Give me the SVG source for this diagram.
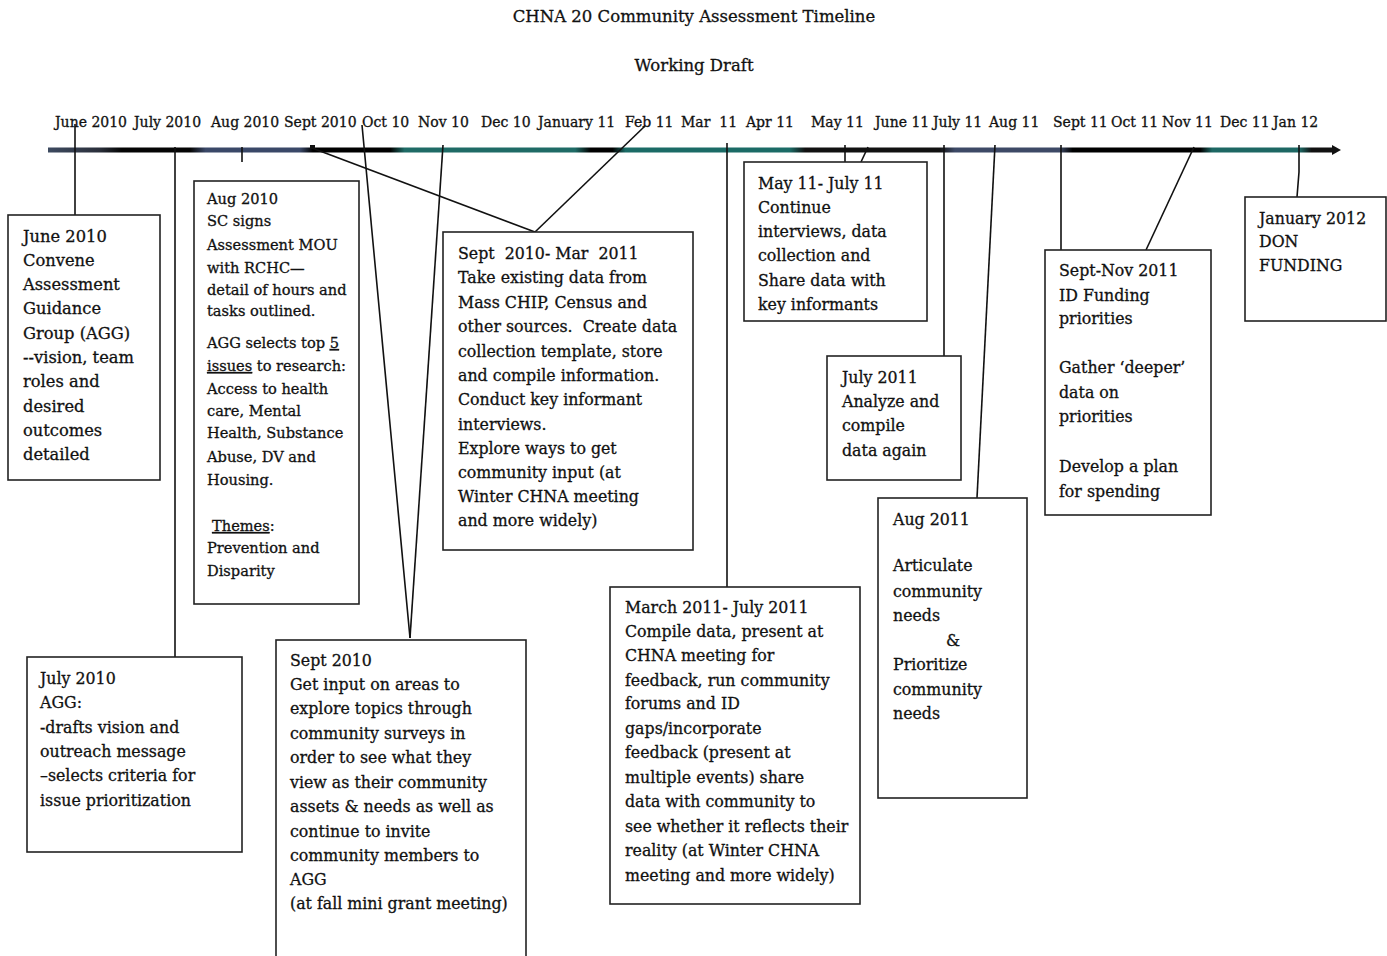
<svg xmlns="http://www.w3.org/2000/svg" width="1387" height="956" viewBox="0 0 1387 956">
<defs>
<linearGradient id="bar" gradientUnits="userSpaceOnUse" x1="48" y1="0" x2="1340" y2="0">
<stop offset="0" stop-color="#3d4a60"/>
<stop offset="0.040" stop-color="#2a2f3a"/>
<stop offset="0.057" stop-color="#050505"/>
<stop offset="0.110" stop-color="#050505"/>
<stop offset="0.122" stop-color="#3a4868"/>
<stop offset="0.195" stop-color="#3a4868"/>
<stop offset="0.205" stop-color="#000"/>
<stop offset="0.265" stop-color="#000"/>
<stop offset="0.276" stop-color="#1f6b66"/>
<stop offset="0.408" stop-color="#1f6b66"/>
<stop offset="0.420" stop-color="#000"/>
<stop offset="0.437" stop-color="#000"/>
<stop offset="0.447" stop-color="#1b6b66"/>
<stop offset="0.574" stop-color="#1b6b66"/>
<stop offset="0.586" stop-color="#111"/>
<stop offset="0.690" stop-color="#111"/>
<stop offset="0.702" stop-color="#3d4966"/>
<stop offset="0.783" stop-color="#3d4966"/>
<stop offset="0.793" stop-color="#000"/>
<stop offset="0.892" stop-color="#000"/>
<stop offset="0.901" stop-color="#1d6763"/>
<stop offset="0.969" stop-color="#1d6763"/>
<stop offset="0.978" stop-color="#111"/>
<stop offset="1" stop-color="#111"/>
</linearGradient>
</defs>
<style>
text{font-family:"DejaVu Serif","Liberation Serif",serif;fill:#111;stroke:#111;stroke-width:0.3;white-space:pre;}
.t{font-size:16.5px;}
.m{font-size:14px;}
.b{font-size:15.8px;}
.s{font-size:14.6px;}
.j{font-size:16.3px;}
.box{fill:#fff;stroke:#222;stroke-width:1.6;}
.c{stroke:#111;stroke-width:1.6;fill:none;}
.u{text-decoration:underline;}
</style>
<rect width="1387" height="956" fill="#fff"/>
<g id="title">
<text class="t" x="694" y="22" text-anchor="middle">CHNA 20 Community Assessment Timeline</text>
<text class="t" x="694" y="71" text-anchor="middle">Working Draft</text>
</g>
<g id="months">
<text class="m" x="55" y="127">June 2010</text>
<text class="m" x="134" y="127">July 2010</text>
<text class="m" x="211" y="127">Aug 2010</text>
<text class="m" x="284" y="127">Sept 2010</text>
<text class="m" x="362" y="127">Oct 10</text>
<text class="m" x="418" y="127">Nov 10</text>
<text class="m" x="481" y="127">Dec 10</text>
<text class="m" x="538" y="127">January 11</text>
<text class="m" x="625" y="127">Feb 11</text>
<text class="m" x="681" y="127" xml:space="preserve">Mar  11</text>
<text class="m" x="746" y="127">Apr 11</text>
<text class="m" x="811" y="127">May 11</text>
<text class="m" x="875" y="127">June 11</text>
<text class="m" x="933" y="127">July 11</text>
<text class="m" x="989" y="127">Aug 11</text>
<text class="m" x="1053" y="127">Sept 11</text>
<text class="m" x="1111" y="127">Oct 11</text>
<text class="m" x="1162" y="127">Nov 11</text>
<text class="m" x="1220" y="127">Dec 11</text>
<text class="m" x="1273" y="127">Jan 12</text>
</g>
<g id="timeline">
<rect x="48" y="147.5" width="1286" height="5" fill="url(#bar)"/>
<polygon points="1332,145 1341,150 1332,155" fill="#111"/>
</g>
<g id="connectors">
<line class="c" x1="75" y1="124" x2="75" y2="215"/>
<line class="c" x1="175" y1="147" x2="175" y2="657"/>
<line class="c" x1="242" y1="147" x2="242" y2="162"/>
<rect x="310" y="145" width="5" height="4" fill="#111"/>
<line class="c" x1="312" y1="148" x2="535" y2="232"/>
<line class="c" x1="645" y1="126" x2="535" y2="232"/>
<line class="c" x1="362" y1="125" x2="410" y2="638"/>
<line class="c" x1="443" y1="145" x2="410" y2="638"/>
<line class="c" x1="727" y1="143" x2="727" y2="587"/>
<line class="c" x1="845" y1="145" x2="845" y2="162"/>
<line class="c" x1="868" y1="147" x2="861" y2="162"/>
<line class="c" x1="944" y1="145" x2="944" y2="356"/>
<line class="c" x1="995" y1="145" x2="977" y2="498"/>
<line class="c" x1="1061" y1="145" x2="1061" y2="250"/>
<line class="c" x1="1194" y1="147" x2="1146" y2="250"/>
<polyline class="c" points="1299,145 1299,172 1297,197"/>
</g>
<g id="june2010">
<rect class="box" x="8" y="215" width="152" height="265"/>
<text class="j"><tspan x="23" y="242">June 2010</tspan><tspan x="23" y="266">Convene</tspan><tspan x="23" y="290">Assessment</tspan><tspan x="23" y="314">Guidance</tspan><tspan x="23" y="339">Group (AGG)</tspan><tspan x="23" y="363">--vision, team</tspan><tspan x="23" y="387">roles and</tspan><tspan x="23" y="412">desired</tspan><tspan x="23" y="436">outcomes</tspan><tspan x="23" y="460">detailed</tspan></text>
</g>
<g id="aug2010">
<rect class="box" x="194" y="181" width="165" height="423"/>
<text class="s"><tspan x="207" y="204">Aug 2010</tspan><tspan x="207" y="226">SC signs</tspan><tspan x="207" y="250">Assessment MOU</tspan><tspan x="207" y="273">with RCHC—</tspan><tspan x="207" y="295">detail of hours and</tspan><tspan x="207" y="316">tasks outlined.</tspan><tspan x="207" y="348">AGG selects top </tspan><tspan class="u">5</tspan><tspan x="207" y="371" class="u">issues</tspan><tspan> to research:</tspan><tspan x="207" y="394">Access to health</tspan><tspan x="207" y="416">care, Mental</tspan><tspan x="207" y="438">Health, Substance</tspan><tspan x="207" y="462">Abuse, DV and</tspan><tspan x="207" y="485">Housing.</tspan><tspan x="212" y="531" class="u">Themes</tspan><tspan>:</tspan><tspan x="207" y="553">Prevention and</tspan><tspan x="207" y="576">Disparity</tspan></text>
</g>
<g id="july2010">
<rect class="box" x="27" y="657" width="215" height="195"/>
<text class="b"><tspan x="40" y="684">July 2010</tspan><tspan x="40" y="708">AGG:</tspan><tspan x="40" y="733">-drafts vision and</tspan><tspan x="40" y="757">outreach message</tspan><tspan x="40" y="781">–selects criteria for</tspan><tspan x="40" y="806">issue prioritization</tspan></text>
</g>
<g id="sept2010">
<rect class="box" x="276" y="640" width="250" height="330"/>
<text class="b"><tspan x="290" y="666">Sept 2010</tspan><tspan x="290" y="690">Get input on areas to</tspan><tspan x="290" y="714">explore topics through</tspan><tspan x="290" y="739">community surveys in</tspan><tspan x="290" y="763">order to see what they</tspan><tspan x="290" y="788">view as their community</tspan><tspan x="290" y="812">assets &amp; needs as well as</tspan><tspan x="290" y="837">continue to invite</tspan><tspan x="290" y="861">community members to</tspan><tspan x="290" y="885">AGG</tspan><tspan x="290" y="909">(at fall mini grant meeting)</tspan></text>
</g>
<g id="sept2010-mar2011">
<rect class="box" x="443" y="232" width="250" height="318"/>
<text class="b" xml:space="preserve"><tspan x="458" y="259">Sept  2010- Mar  2011</tspan><tspan x="458" y="283">Take existing data from</tspan><tspan x="458" y="308">Mass CHIP, Census and</tspan><tspan x="458" y="332">other sources.  Create data</tspan><tspan x="458" y="357">collection template, store</tspan><tspan x="458" y="381">and compile information.</tspan><tspan x="458" y="405">Conduct key informant</tspan><tspan x="458" y="430">interviews.</tspan><tspan x="458" y="454">Explore ways to get</tspan><tspan x="458" y="478">community input (at</tspan><tspan x="458" y="502">Winter CHNA meeting</tspan><tspan x="458" y="526">and more widely)</tspan></text>
</g>
<g id="mar2011-jul2011">
<rect class="box" x="610" y="587" width="250" height="317"/>
<text class="b"><tspan x="625" y="613">March 2011- July 2011</tspan><tspan x="625" y="637">Compile data, present at</tspan><tspan x="625" y="661">CHNA meeting for</tspan><tspan x="625" y="686">feedback, run community</tspan><tspan x="625" y="709">forums and ID</tspan><tspan x="625" y="734">gaps/incorporate</tspan><tspan x="625" y="758">feedback (present at</tspan><tspan x="625" y="783">multiple events) share</tspan><tspan x="625" y="807">data with community to</tspan><tspan x="625" y="832">see whether it reflects their</tspan><tspan x="625" y="856">reality (at Winter CHNA</tspan><tspan x="625" y="881">meeting and more widely)</tspan></text>
</g>
<g id="may11-jul11">
<rect class="box" x="744" y="162" width="183" height="159"/>
<text class="b"><tspan x="758" y="189">May 11- July 11</tspan><tspan x="758" y="213">Continue</tspan><tspan x="758" y="237">interviews, data</tspan><tspan x="758" y="261">collection and</tspan><tspan x="758" y="286">Share data with</tspan><tspan x="758" y="310">key informants</tspan></text>
</g>
<g id="july2011">
<rect class="box" x="827" y="356" width="134" height="124"/>
<text class="b"><tspan x="842" y="383">July 2011</tspan><tspan x="842" y="407">Analyze and</tspan><tspan x="842" y="431">compile</tspan><tspan x="842" y="456">data again</tspan></text>
</g>
<g id="aug2011">
<rect class="box" x="878" y="498" width="149" height="300"/>
<text class="b"><tspan x="893" y="525">Aug 2011</tspan><tspan x="893" y="571">Articulate</tspan><tspan x="893" y="597">community</tspan><tspan x="893" y="621">needs</tspan><tspan x="946" y="646">&amp;</tspan><tspan x="893" y="670">Prioritize</tspan><tspan x="893" y="695">community</tspan><tspan x="893" y="719">needs</tspan></text>
</g>
<g id="sept-nov2011">
<rect class="box" x="1045" y="250" width="166" height="265"/>
<text class="b"><tspan x="1059" y="276">Sept-Nov 2011</tspan><tspan x="1059" y="301">ID Funding</tspan><tspan x="1059" y="324">priorities</tspan><tspan x="1059" y="373">Gather ‘deeper’</tspan><tspan x="1059" y="398">data on</tspan><tspan x="1059" y="422">priorities</tspan><tspan x="1059" y="472">Develop a plan</tspan><tspan x="1059" y="497">for spending</tspan></text>
</g>
<g id="jan2012">
<rect class="box" x="1245" y="197" width="141" height="124"/>
<text class="b"><tspan x="1259" y="224">January 2012</tspan><tspan x="1259" y="247">DON</tspan><tspan x="1259" y="271">FUNDING</tspan></text>
</g>
</svg>
